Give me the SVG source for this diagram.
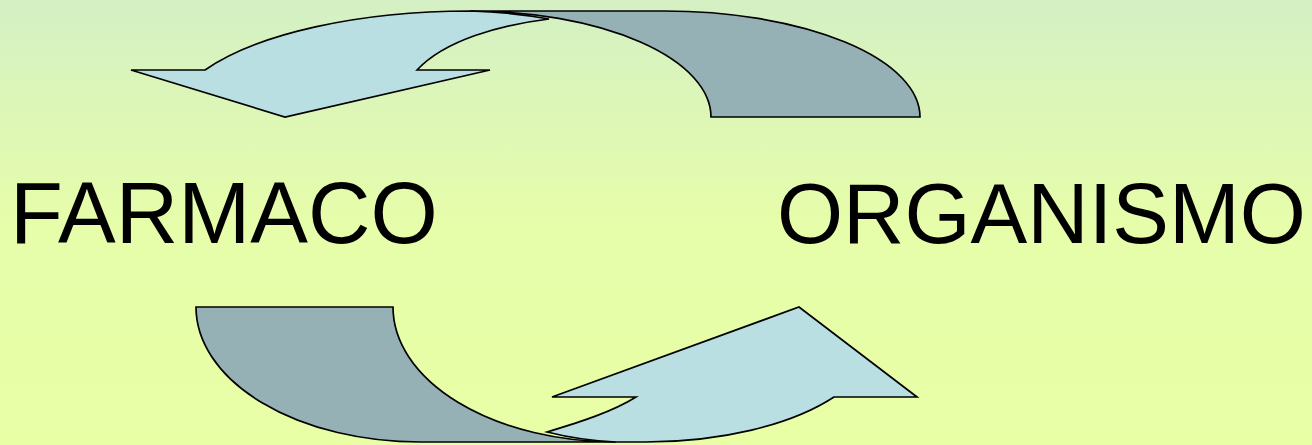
<svg xmlns="http://www.w3.org/2000/svg" width="1312" height="445" viewBox="0 0 1312 445">
  <defs>
    <linearGradient id="bg" x1="0" y1="0" x2="0" y2="1">
      <stop offset="0" stop-color="#d4f0c4"/>
      <stop offset="0.5" stop-color="#e6fdaa"/>
      <stop offset="1" stop-color="#e8ffa6"/>
    </linearGradient>
  </defs>
  <style>
    .front { fill: #b9dfe3; stroke: #000; stroke-width: 1.7; stroke-linejoin: miter; }
    .back { fill: #96b1b5; stroke: #000; stroke-width: 1.7; }
    .label { font-family: "Liberation Sans", Arial, sans-serif; font-size: 85px; fill: #000; }
  </style>
  <rect width="1312" height="445" fill="url(#bg)"/>
  <g id="connectors">
    <g id="arrow-top">
      <path class="back" d="M470,11 L664,11 A256 106 0 0 1 920,117 L711,117 A241 106 0 0 0 470,11 Z"/>
      <path class="front" d="M131,70 L205,70 A300 111 0 0 1 470,11 A241 106 0 0 1 549,19 C500,25 445,40 417,70 L490,70 L285,117 Z"/>
    </g>
    <g id="arrow-bottom">
      <path class="back" d="M196,307 L393,307 A223 135 0 0 0 616,442 L420,442 A224 135 0 0 1 196,307 Z"/>
      <path class="front" d="M834,397 A230 105 0 0 1 645,442 L616,442 A223 135 0 0 1 547,432 C580,422 612,412 636,397 L552,397 L799,307 L917,397 Z"/>
    </g>
  </g>
  <g id="node-farmaco">
    <text class="label" x="10" y="243" style="font-size:86.5px">FARMACO</text>
  </g>
  <g id="node-organismo">
    <text class="label" x="777" y="243">ORGANISMO</text>
  </g>
</svg>
